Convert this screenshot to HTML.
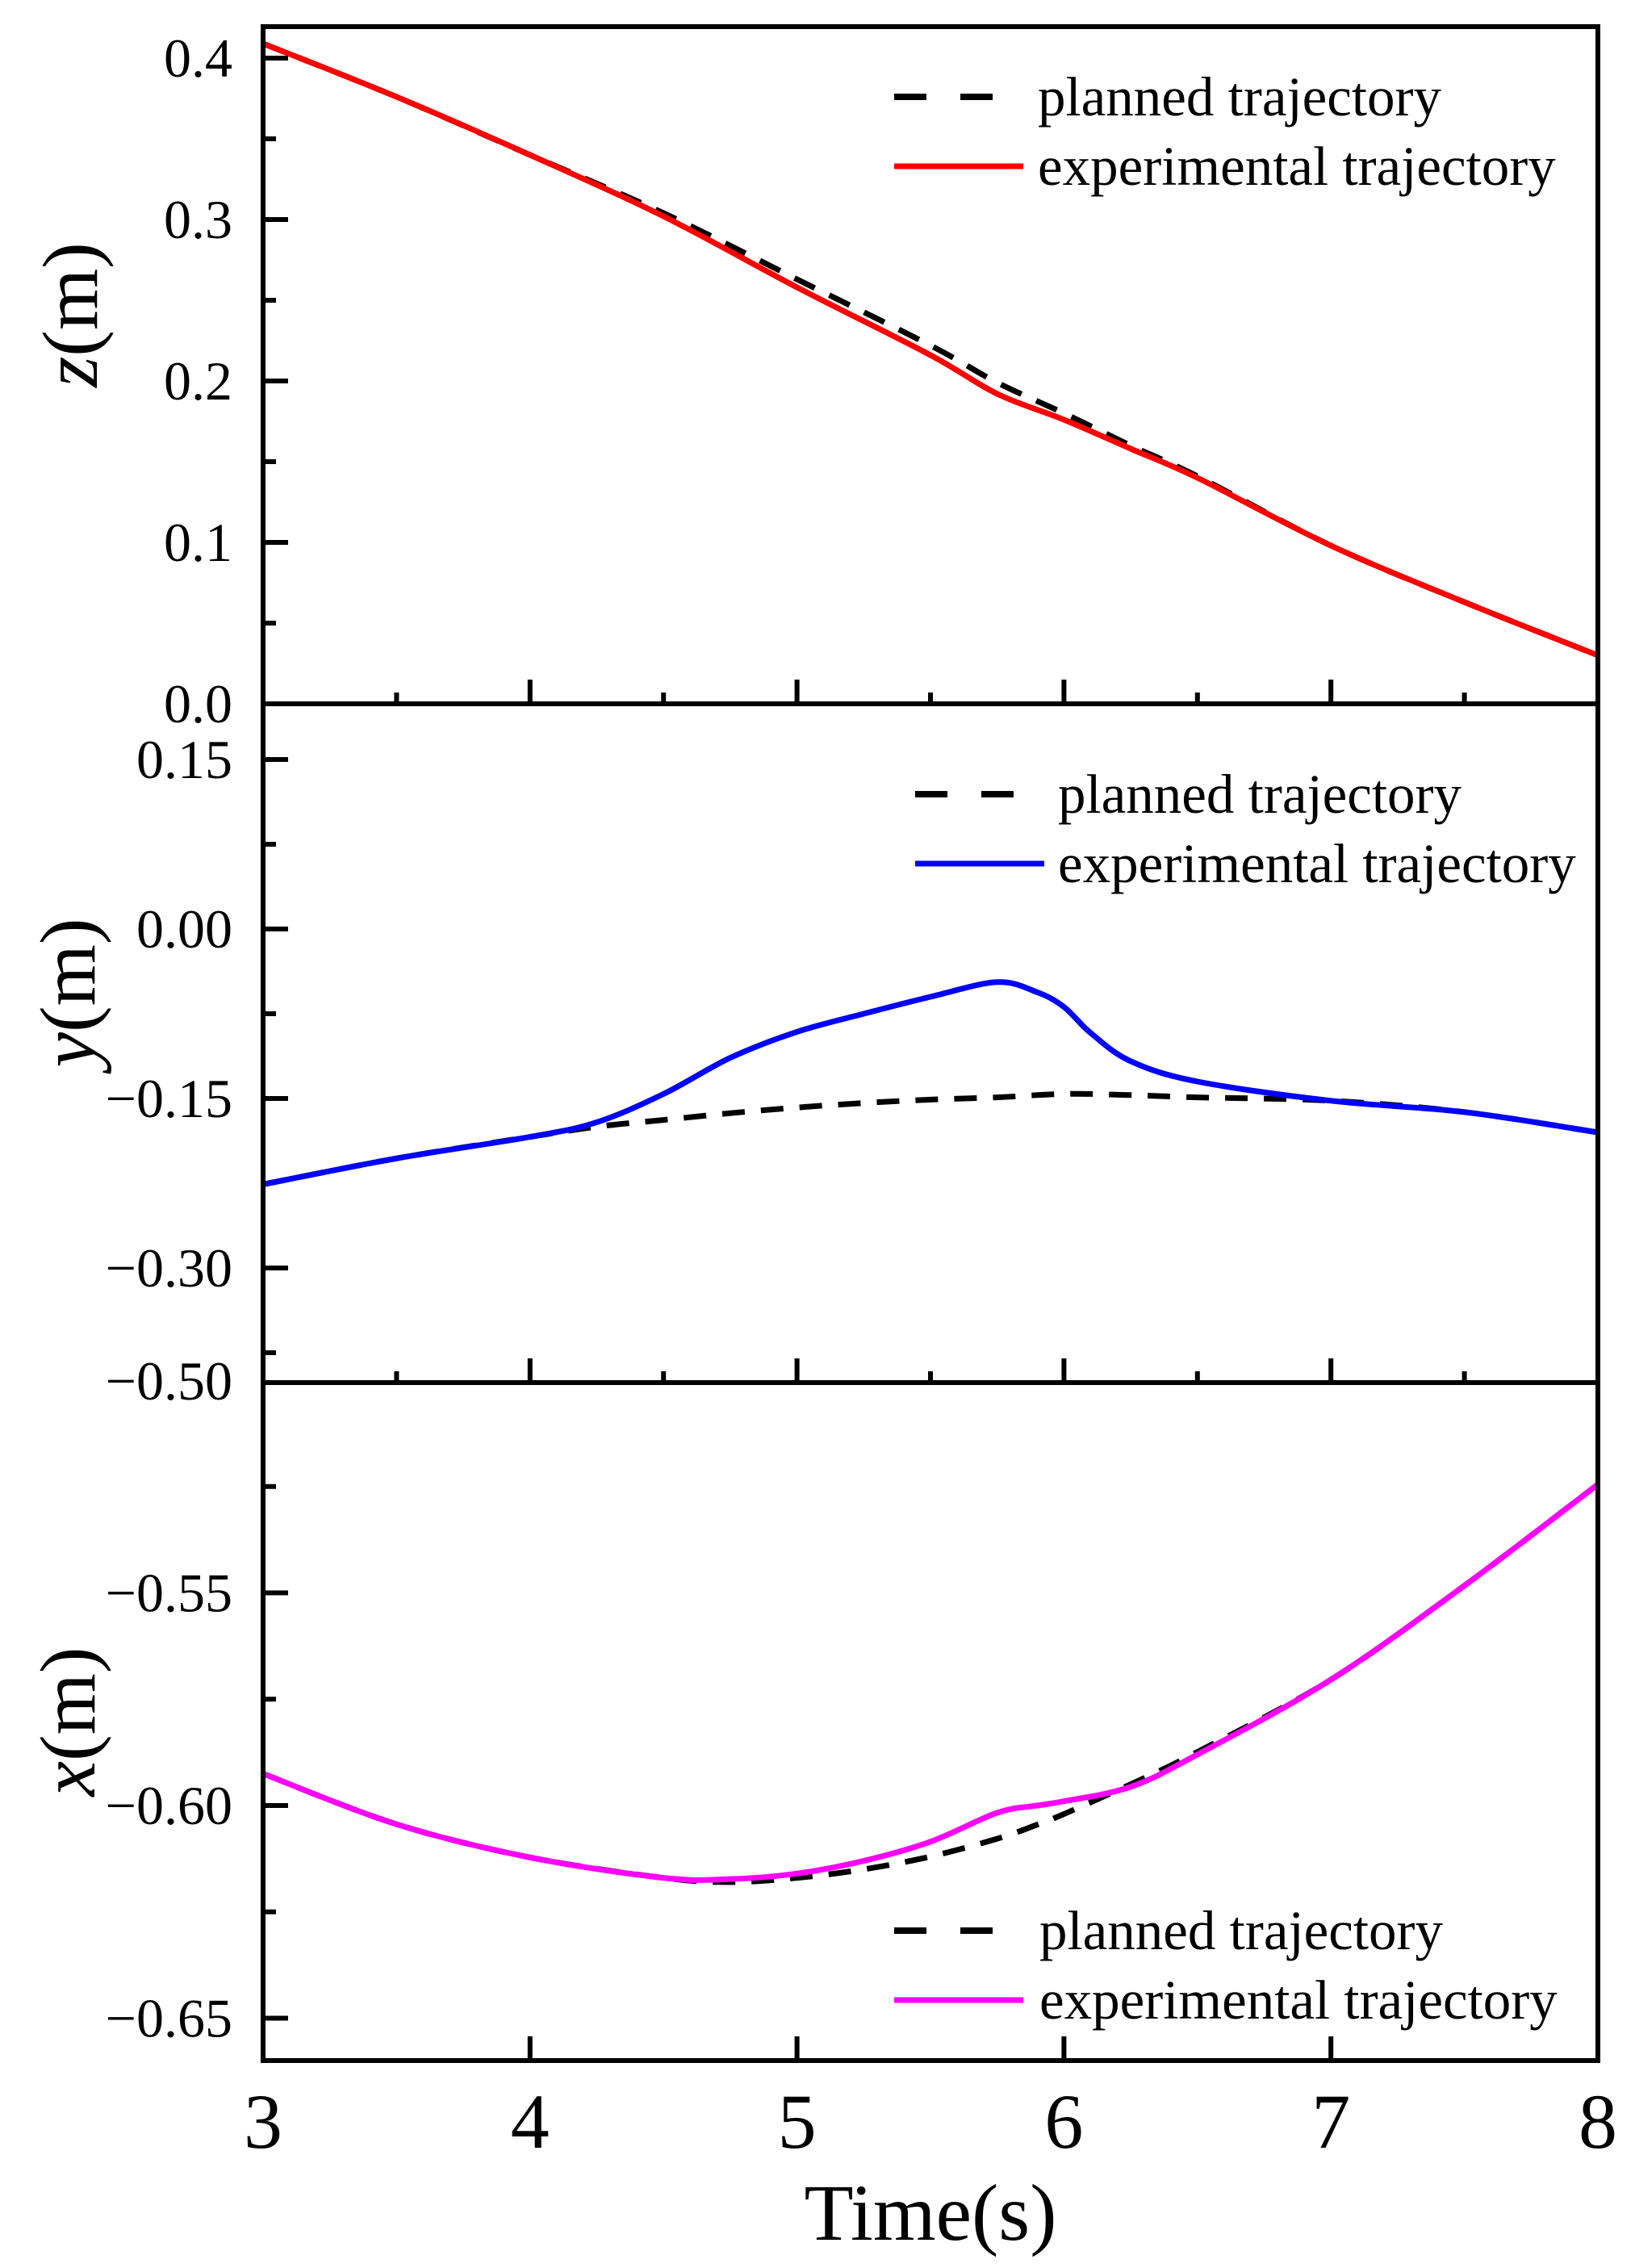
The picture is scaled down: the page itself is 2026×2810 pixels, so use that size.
<!DOCTYPE html>
<html><head><meta charset="utf-8"><style>
html,body{margin:0;padding:0;background:#fff;}
svg{display:block;}
text{font-family:"Liberation Serif",serif;fill:#000;}
</style></head><body>
<svg id="chart" width="2026" height="2810" viewBox="0 0 2026 2810" xmlns="http://www.w3.org/2000/svg">
<g id="plots"></g>
<g id="axes"></g>
<g id="labels"></g>
</svg>
<script>
// time samples
const tZ = [3,3.5,4,4.5,5,5.5,5.75,6,6.25,6.5,7,7.5,8];
const zExp = [0.409,0.376,0.340,0.302,0.258,0.216,0.192,0.176,0.158,0.140,0.098,0.063,0.030];
const zPlan = [0.409,0.376,0.340,0.304,0.263,0.222,0.199,0.180,0.160,0.141,0.098,0.063,0.030];
const tY = [3,3.5,4,4.25,4.5,4.75,5,5.25,5.5,5.75,5.9,6,6.1,6.25,6.5,7,7.5,8];
const yExp = [-0.226,-0.203,-0.184,-0.171,-0.146,-0.114,-0.091,-0.075,-0.060,-0.047,-0.056,-0.069,-0.092,-0.117,-0.135,-0.152,-0.162,-0.180];
const yPlan = [-0.226,-0.203,-0.184,-0.175,-0.169,-0.163,-0.158,-0.154,-0.151,-0.149,-0.147,-0.146,-0.146,-0.147,-0.149,-0.152,-0.162,-0.180];
const tX = [3,3.5,4,4.5,4.75,5,5.25,5.5,5.75,5.9,6,6.25,6.5,7,7.5,8];
const xExp = [-0.5925,-0.6044,-0.6122,-0.6170,-0.6173,-0.6160,-0.6130,-0.6085,-0.6017,-0.6000,-0.5990,-0.5956,-0.5880,-0.5704,-0.5483,-0.5245];
const xPlan = [-0.5925,-0.6044,-0.6122,-0.6170,-0.6180,-0.6170,-0.6150,-0.6120,-0.6078,-0.6045,-0.6020,-0.5950,-0.5874,-0.5704,-0.5483,-0.5245];
const xTickLabels = ["3","4","5","6","7","8"];
const zTicks = [0.4,0.3,0.2,0.1,0.0];
const zTickLabels = ["0.4","0.3","0.2","0.1","0.0"];
const yTicks = [0.15,0.0,-0.15,-0.30,-0.40];
const yTickLabels = ["0.15","0.00","\u22120.15","\u22120.30","\u22120.50"];
const xTicksV = [-0.55,-0.60,-0.65];
const xTickLabelsV = ["\u22120.55","\u22120.60","\u22120.65"];

const NS="http://www.w3.org/2000/svg";
const L=326,R=1980;
const tx = t => L + (t-3)*(R-L)/5;
const panels = [
  {top:33,bot:872,sy:v=>872-v*2000,name:'z'},
  {top:872,bot:1713,sy:v=>1151-v*1400,name:'y'},
  {top:1713,bot:2553,sy:v=>2237-(v+0.6)*5270,name:'x'}
];
function mk(tag,attrs,parent){const e=document.createElementNS(NS,tag);for(const k in attrs)e.setAttribute(k,attrs[k]);parent.appendChild(e);return e;}
function smoothPath(ts,vs,sy){
  const p=ts.map((t,i)=>[tx(t),sy(vs[i])]);
  let d=`M${p[0][0]},${p[0][1]}`;
  for(let i=0;i<p.length-1;i++){
    const p0=p[Math.max(0,i-1)],p1=p[i],p2=p[i+1],p3=p[Math.min(p.length-1,i+2)];
    const c1=[p1[0]+(p2[0]-p0[0])/6,p1[1]+(p2[1]-p0[1])/6];
    const c2=[p2[0]-(p3[0]-p1[0])/6,p2[1]-(p3[1]-p1[1])/6];
    d+=` C${c1[0]},${c1[1]} ${c2[0]},${c2[1]} ${p2[0]},${p2[1]}`;
  }
  return d;
}
const plots=document.getElementById('plots'),axes=document.getElementById('axes'),labels=document.getElementById('labels');
const series=[[tZ,zPlan,zExp,'#ff0000'],[tY,yPlan,yExp,'#0000ff'],[tX,xPlan,xExp,'#ff00ff']];
panels.forEach((P,i)=>{
  const [ts,pl,ex,col]=series[i];
  const cp=mk('clipPath',{id:'clip'+i},plots);
  mk('rect',{x:L,y:P.top,width:R-L,height:P.bot-P.top},cp);
  const g=mk('g',{'clip-path':`url(#clip${i})`},plots);
  const pp=mk('path',{d:smoothPath(ts,pl,P.sy),fill:'none',stroke:'#000','stroke-width':7,'stroke-dasharray':'28,20'},g);
  
  
  const pe=mk('path',{d:smoothPath(ts,ex,P.sy),fill:'none',stroke:col,'stroke-width':7},g);
  
  
  for(let t=3.5;t<8;t+=0.5){
    const major=Number.isInteger(t);
    if(i===2&&!major)continue;
    const tk=mk('line',{x1:tx(t),x2:tx(t),y1:P.bot,y2:P.bot-(major?30:14),stroke:'#000','stroke-width':6},axes);
    
    
  }
});
function yTicksDraw(P,vals,labs,minors){
  vals.forEach((v,j)=>{
    const y=P.sy(v);
    if(y>P.top+3&&y<P.bot-3){
      const tk=mk('line',{x1:L,x2:L+31,y1:y,y2:y,stroke:'#000','stroke-width':6},axes);
      
      
    }
    const tl=mk('text',{x:288,y:y+23,'text-anchor':'end','font-size':68},labels);
    tl.textContent=labs[j];
    
    
  });
  minors.forEach(v=>{
    const y=P.sy(v);
    const tk=mk('line',{x1:L,x2:L+16,y1:y,y2:y,stroke:'#000','stroke-width':6},axes);
    
    
  });
}
yTicksDraw(panels[0],zTicks,zTickLabels,[0.35,0.25,0.15,0.05]);
yTicksDraw(panels[1],yTicks,yTickLabels,[0.075,-0.075,-0.375]);
yTicksDraw(panels[2],xTicksV,xTickLabelsV,[-0.525,-0.575,-0.625]);
panels.forEach(P=>{
  const r=mk('rect',{x:L,y:P.top,width:R-L,height:P.bot-P.top,fill:'none',stroke:'#000','stroke-width':6},axes);
  
  
});
xTickLabels.forEach((s,j)=>{
  const t=mk('text',{x:tx(3+j),y:2661,'text-anchor':'middle','font-size':96},labels);
  t.textContent=s;
  
  
});
const xt=mk('text',{x:1153,y:2775,'text-anchor':'middle','font-size':100},labels);
xt.textContent='Time(s)';


[['z',120,390],['y',117,1230],['x',117,2133]].forEach(([n,x,y])=>{
  const t=mk('text',{x:x,y:y,'text-anchor':'middle','font-size':98,transform:`rotate(-90 ${x} ${y})`},labels);
  const it=mk('tspan',{'font-style':'italic'},t);it.textContent=n;
  const rest=mk('tspan',{},t);rest.textContent='(m)';
  
  
});
const legends=[[1108,1286,120,206,'#ff0000','z'],[1134,1311,984,1070,'#0000ff','y'],[1108,1288,2392,2478,'#ff00ff','x']];
legends.forEach(([lx,tx0,y1,y2,col,n])=>{
  const g=mk('g',{},labels);
  
  
  mk('line',{x1:lx,x2:lx+40,y1:y1,y2:y1,stroke:'#000','stroke-width':8},g);
  mk('line',{x1:lx+82,x2:lx+122,y1:y1,y2:y1,stroke:'#000','stroke-width':8},g);
  mk('line',{x1:lx,x2:lx+160,y1:y2,y2:y2,stroke:col,'stroke-width':7},g);
  const a=mk('text',{x:tx0,y:y1+23,'font-size':69},g);a.textContent='planned trajectory';
  
  
  const b=mk('text',{x:tx0,y:y2+23,'font-size':69},g);b.textContent='experimental trajectory';
  
  
});
</script>
</body></html>
